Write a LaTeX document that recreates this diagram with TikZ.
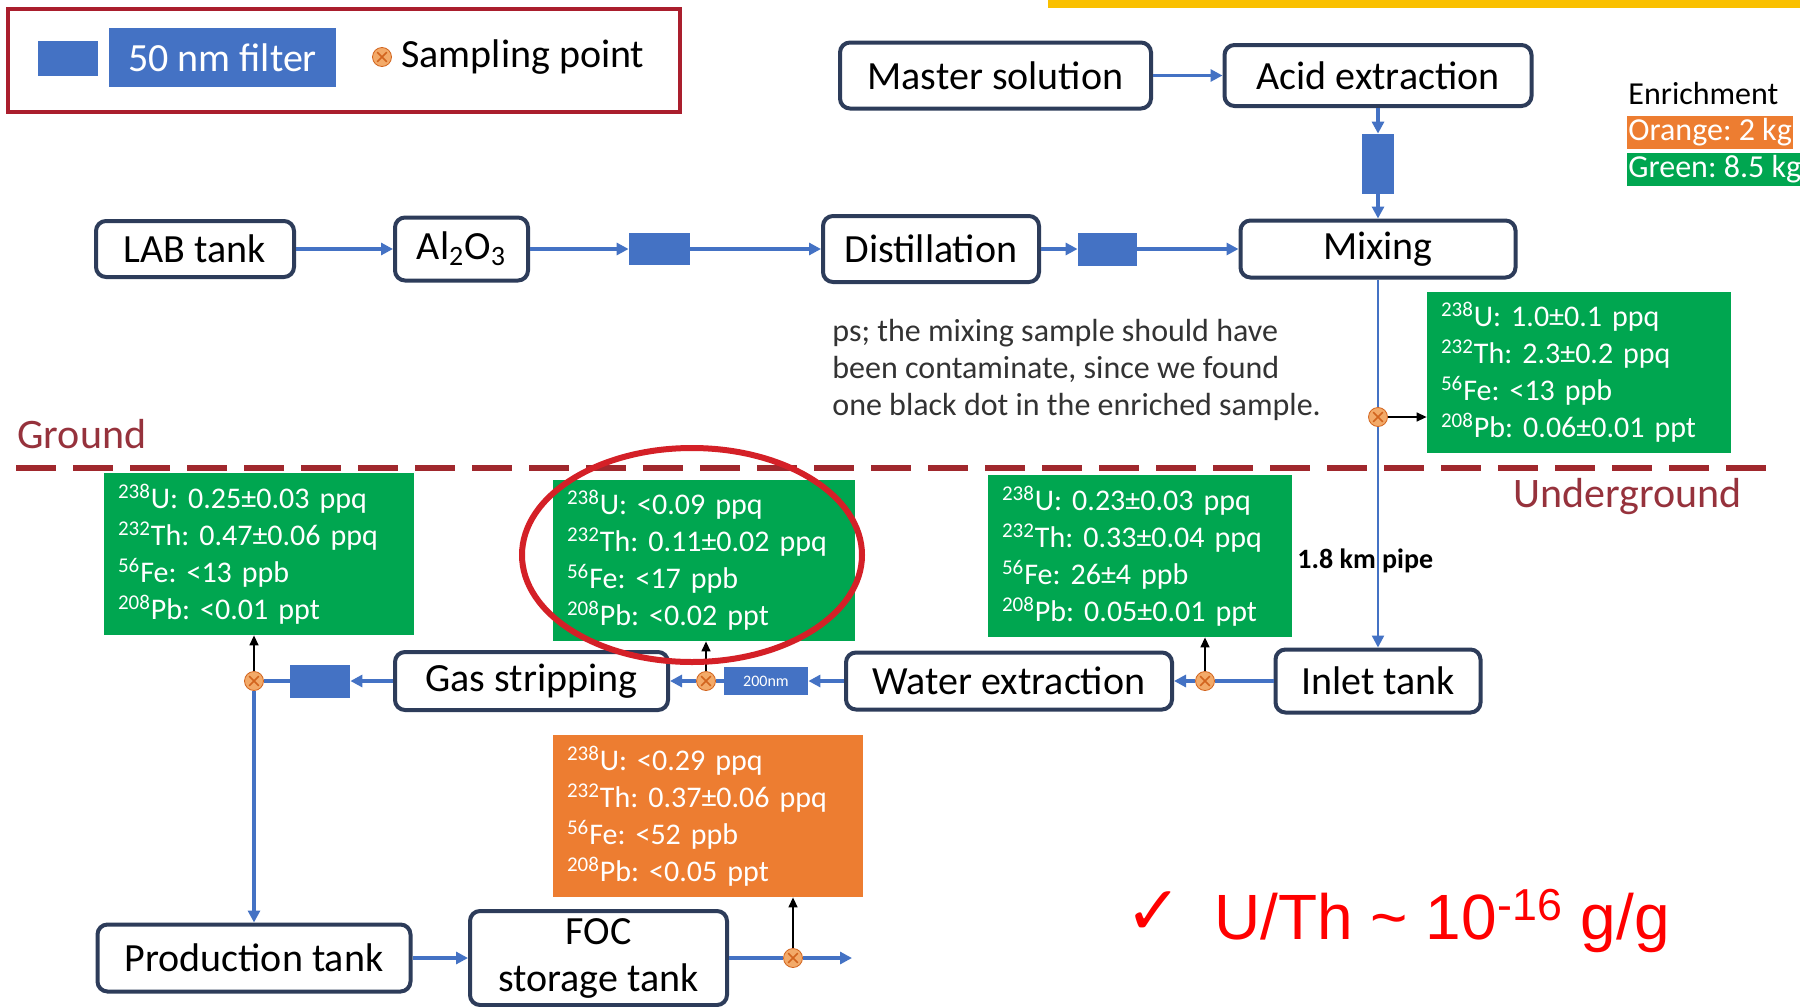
\documentclass[tikz,border=0pt]{standalone}
\usepackage{fontspec}
\setmainfont{Carlito}
\newfontfamily\arialf{Liberation Sans}
\newfontfamily\djv{DejaVu Sans}
\usetikzlibrary{arrows.meta}
\frenchspacing
\definecolor{boxc}{RGB}{45,60,90}
\definecolor{flow}{RGB}{68,114,196}
\definecolor{fblue}{RGB}{68,114,196}
\definecolor{gfill}{RGB}{0,166,80}
\definecolor{ofill}{RGB}{237,125,49}
\definecolor{lineRed}{RGB}{160,40,45}
\definecolor{gndc}{RGB}{150,50,60}
\definecolor{ellc}{RGB}{212,32,39}
\definecolor{legc}{RGB}{170,30,45}
\definecolor{spf}{RGB}{243,170,105}
\definecolor{spx}{RGB}{210,100,30}
\definecolor{stripYellow}{RGB}{250,192,0}
\begin{document}
\begin{tikzpicture}[x=0.5pt,y=-0.5pt,
 proc/.style={draw=boxc, line width=2pt, rounded corners=5pt, fill=white, font=\fontsize{20}{23.5}\selectfont, inner sep=0pt, align=center},
 filt/.style={fill=fblue, inner sep=0pt},
 meas/.style={inner xsep=7pt, inner ysep=0pt, align=left, text=white, font=\fontsize{15}{18.5}\selectfont},
 gbox/.style={meas, fill=gfill},
 obox/.style={meas, fill=ofill},
 flw/.style={draw=flow, line width=1.7pt, -{Triangle[length=6pt,width=6pt]}},
 flwn/.style={draw=flow, line width=1.7pt},
 samp/.style={-{Triangle[length=5pt,width=4.5pt]}, line width=0.7pt, black},
 spt/.style={circle, fill=spf, draw=spx, line width=0.4pt, minimum size=9.5pt, inner sep=0pt,
   path picture={\draw[spx, line width=0.8pt]
     ([shift={(-2.4pt,-2.4pt)}]path picture bounding box.center) -- ([shift={(2.4pt,2.4pt)}]path picture bounding box.center)
     ([shift={(-2.4pt,2.4pt)}]path picture bounding box.center) -- ([shift={(2.4pt,-2.4pt)}]path picture bounding box.center);}},
 lbl/.style={inner sep=0pt}
]
\useasboundingbox (0,0) rectangle (1800,1007);
\fill[white] (0,0) rectangle (1800,1007);

% top yellow strip
\fill[stripYellow] (1048,0) rectangle (1800,8);

% legend
\node[draw=legc, line width=2pt, minimum width=336pt, minimum height=51.5pt, inner sep=0pt] (leg) at (344,60.5) {};
\node[filt, minimum width=30pt, minimum height=17.5pt] (lf) at (68,58.5) {};
\node[fill=fblue, text=white, inner sep=0pt, minimum width=113.5pt, minimum height=29.5pt, font=\fontsize{20}{24}\selectfont] (lt) at (222.5,57.5) {50 nm filter};
\node[spt] (lsp) at (382,57) {};
\node[lbl, anchor=west, font=\fontsize{20}{24}\selectfont] (ltx) at (401,57) {Sampling point};

% enrichment legend
\node[lbl, anchor=west, font=\fontsize{16}{19}\selectfont] (enr) at (1628,94) {Enrichment};
\node[anchor=west, inner xsep=0.5pt, inner ysep=0pt, fill=ofill, text=white, minimum height=16.5pt, font=\fontsize{16}{19}\selectfont] (eor) at (1627,132.5) {Orange: 2 kg};
\node[anchor=west, inner xsep=0.5pt, inner ysep=0pt, fill=gfill, text=white, minimum height=16.5pt, font=\fontsize{16}{19}\selectfont] (egr) at (1627,169.5) {Green: 8.5 kg};

% ground line
\draw[lineRed, line width=2.8pt, dash pattern=on 20pt off 8.5pt] (16,468) -- (1777,468);
\node[lbl, anchor=west, text=gndc, font=\fontsize{21}{24}\selectfont] (gnd) at (17,434) {Ground};
\node[lbl, anchor=west, text=gndc, font=\fontsize{21}{24}\selectfont] (ugnd) at (1513,497) {Underground};

% process boxes
\node[proc, minimum width=155.5pt, minimum height=33pt] (ms) at (995.5,75.5) {Master solution};
\node[proc, minimum width=153.5pt, minimum height=30.5pt] (ae) at (1378,75.5) {Acid extraction};
\node[proc, minimum width=137.5pt, minimum height=28.5pt] (mix) at (1378,249) {Mixing};
\node[proc, minimum width=108pt, minimum height=33pt] (dist) at (931,249) {Distillation};
\node[proc, minimum width=99pt, minimum height=28pt] (lab) at (195,249) {LAB tank};
\node[proc, minimum width=66.5pt, minimum height=31.5pt] (al) at (461.5,249) {Al\textsubscript{2}O\textsubscript{3}};
\node[filt, minimum width=30.5pt, minimum height=16pt] (f1) at (659.5,249) {};
\node[filt, minimum width=29.5pt, minimum height=16.5pt] (f2) at (1107.5,249) {};
\node[filt, minimum width=16pt, minimum height=30pt] (f3) at (1378,164) {};

\node[proc, minimum width=102.5pt, minimum height=31.5pt] (inl) at (1378,681) {Inlet tank};
\node[proc, minimum width=163pt, minimum height=28.5pt] (wat) at (1009,681) {Water extraction};
\node[proc, minimum width=136.5pt, minimum height=29pt] (gas) at (531.5,681) {Gas stripping};
\node[filt, minimum width=42pt, minimum height=14pt, text=white, font=\fontsize{8}{9}\selectfont] (f200) at (766,681) {200nm};
\node[filt, minimum width=30pt, minimum height=16.5pt] (fL) at (320,681) {};
\node[proc, minimum width=156.5pt, minimum height=33.5pt] (prod) at (254,958) {Production tank};
\node[proc, minimum width=128.5pt, minimum height=47pt] (foc) at (598.5,958) {FOC\\storage tank};
\coordinate (outc) at (852,958);

% sampling points
\node[spt] (sp1) at (1378,417) {};
\node[spt] (sp2) at (1205,681) {};
\node[spt] (sp3) at (706,681) {};
\node[spt] (sp4) at (254,681) {};
\node[spt] (sp5) at (793,958) {};

% measurement boxes
\node[gbox, text width=138pt, minimum height=80.5pt] (g4) at (1579,372.5) {\mbox{\textsuperscript{238}U: 1.0±0.1 ppq}\\\mbox{\textsuperscript{232}Th: 2.3±0.2 ppq}\\\mbox{\textsuperscript{56}Fe: <13 ppb}\\\mbox{\textsuperscript{208}Pb: 0.06±0.01 ppt}};
\node[gbox, text width=141pt, minimum height=81pt] (g1) at (259,554) {\mbox{\textsuperscript{238}U: 0.25±0.03 ppq}\\\mbox{\textsuperscript{232}Th: 0.47±0.06 ppq}\\\mbox{\textsuperscript{56}Fe: <13 ppb}\\\mbox{\textsuperscript{208}Pb: <0.01 ppt}};
\node[gbox, text width=137pt, minimum height=80.5pt] (g2) at (704,560.5) {\mbox{\textsuperscript{238}U: <0.09 ppq}\\\mbox{\textsuperscript{232}Th: 0.11±0.02 ppq}\\\mbox{\textsuperscript{56}Fe: <17 ppb}\\\mbox{\textsuperscript{208}Pb: <0.02 ppt}};
\node[gbox, text width=138pt, minimum height=81pt] (g3) at (1140,556) {\mbox{\textsuperscript{238}U: 0.23±0.03 ppq}\\\mbox{\textsuperscript{232}Th: 0.33±0.04 ppq}\\\mbox{\textsuperscript{56}Fe: 26±4 ppb}\\\mbox{\textsuperscript{208}Pb: 0.05±0.01 ppt}};
\node[obox, text width=141pt, minimum height=81pt] (o1) at (708,816) {\mbox{\textsuperscript{238}U: <0.29 ppq}\\\mbox{\textsuperscript{232}Th: 0.37±0.06 ppq}\\\mbox{\textsuperscript{56}Fe: <52 ppb}\\\mbox{\textsuperscript{208}Pb: <0.05 ppt}};

% note
\node[lbl, anchor=west, align=left, text=black!80, font=\fontsize{16}{18.5}\selectfont] (ps) at (832,370) {ps; the mixing sample should have\\been contaminate, since we found\\one black dot in the enriched sample.};

% flow connectors
\draw[flw] (lab) -- (al);
\draw[flw] (al) -- (f1);
\draw[flw] (f1) -- (dist);
\draw[flw] (dist) -- (f2);
\draw[flw] (f2) -- (mix);
\draw[flw] (ms) -- (ae);
\draw[flw] (ae) -- (f3);
\draw[flw] (f3) -- (mix);
\draw[flwn, line width=1.2pt] (mix) -- (sp1);
\draw[flw, line width=1.2pt] (sp1) -- (inl);
\draw[flwn] (inl) -- (sp2);
\draw[flw] (sp2) -- (wat);
\draw[flw] (wat) -- (f200);
\draw[flwn] (f200) -- (sp3);
\draw[flw] (sp3) -- (gas);
\draw[flw] (gas) -- (fL);
\draw[flwn] (fL) -- (sp4);
\draw[flw] (sp4) -- (prod);
\draw[flw] (prod) -- (foc);
\draw[flwn] (foc) -- (sp5);
\draw[flw] (sp5) -- (outc);

% sampling arrows
\draw[samp] (sp1) -- (sp1 -| g4.west);
\draw[samp] (sp2) -- (sp2 |- g3.south);
\draw[samp] (sp3) -- (sp3 |- g2.south);
\draw[samp] (sp4) -- (sp4 |- g1.south);
\draw[samp] (sp5) -- (sp5 |- o1.south);

\node[lbl, anchor=west, font=\bfseries\fontsize{14}{16}\selectfont] (pipe) at (1297,561) {1.8 km pipe};

% highlight ellipse
\draw[ellc, line width=3pt] (692,555) ellipse [x radius=85pt, y radius=53.5pt];

% conclusion
\node[lbl, text=red, font=\djv\fontsize{34}{38}\selectfont] (chk) at (1154,913) {✓};
\node[lbl, anchor=base west, text=red, font=\arialf\fontsize{32}{38}\selectfont] (ut) at (1214,939) {U/Th \textasciitilde{} 10\textsuperscript{-16} g/g};
\end{tikzpicture}
\end{document}
